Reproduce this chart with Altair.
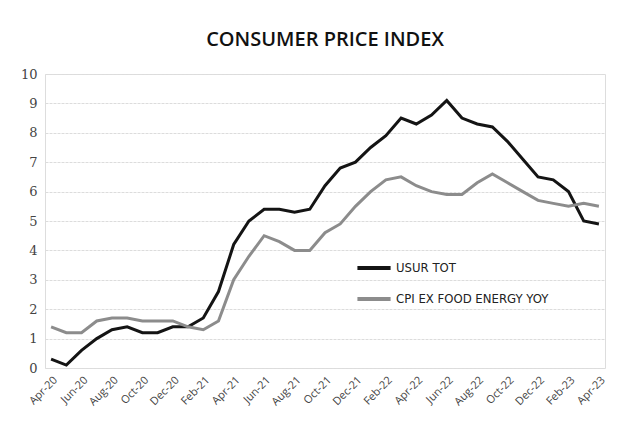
import altair as alt
import pandas as pd

months = ["Apr-20","May-20","Jun-20","Jul-20","Aug-20","Sep-20","Oct-20","Nov-20","Dec-20",
          "Jan-21","Feb-21","Mar-21","Apr-21","May-21","Jun-21","Jul-21","Aug-21","Sep-21","Oct-21","Nov-21","Dec-21",
          "Jan-22","Feb-22","Mar-22","Apr-22","May-22","Jun-22","Jul-22","Aug-22","Sep-22","Oct-22","Nov-22","Dec-22",
          "Jan-23","Feb-23","Mar-23","Apr-23"]
usur_tot = [0.3,0.1,0.6,1.0,1.3,1.4,1.2,1.2,1.4,
            1.4,1.7,2.6,4.2,5.0,5.4,5.4,5.3,5.4,6.2,6.8,7.0,
            7.5,7.9,8.5,8.3,8.6,9.1,8.5,8.3,8.2,7.7,7.1,6.5,
            6.4,6.0,5.0,4.9]
core_yoy = [1.4,1.2,1.2,1.6,1.7,1.7,1.6,1.6,1.6,
            1.4,1.3,1.6,3.0,3.8,4.5,4.3,4.0,4.0,4.6,4.9,5.5,
            6.0,6.4,6.5,6.2,6.0,5.9,5.9,6.3,6.6,6.3,6.0,5.7,
            5.6,5.5,5.6,5.5]
series_names = ["USUR TOT", "CPI EX FOOD ENERGY YOY"]
series_colors = ["#141414", "#8c8c8c"]

rows = []
for i, m in enumerate(months):
    rows.append({"idx": i, "month": m, "series": series_names[0], "value": usur_tot[i]})
    rows.append({"idx": i, "month": m, "series": series_names[1], "value": core_yoy[i]})
df = pd.DataFrame(rows)

label_list = "[" + ",".join("'" + m + "'" for m in months) + "]"

chart = alt.Chart(df).mark_line(strokeWidth=3).encode(
    x=alt.X("idx:Q",
            scale=alt.Scale(domain=[-0.4, 36.4], nice=False, zero=False),
            axis=alt.Axis(values=list(range(0, 37, 2)), labelExpr=label_list + "[datum.value]",
                          labelAngle=-45, labelAlign="right", labelBaseline="top",
                          labelOverlap=False, labelBound=False,
                          grid=False, ticks=False, domain=False, title=None,
                          labelFont="Open Sans", labelFontSize=11, labelColor="#444",
                          labelPadding=6)),
    y=alt.Y("value:Q",
            scale=alt.Scale(domain=[0, 10], nice=False),
            axis=alt.Axis(values=list(range(0, 11)), grid=True, gridColor="#dcdcdc",
                          gridWidth=1, gridDash=[3, 1], ticks=False, domain=False, title=None,
                          labelFont="DejaVu Serif", labelFontSize=13, labelColor="#444",
                          labelPadding=8, minExtent=30, maxExtent=30)),
    color=alt.Color("series:N",
                    scale=alt.Scale(domain=series_names, range=series_colors),
                    legend=alt.Legend(orient="none", legendX=310, legendY=175, title=None,
                                      symbolType="stroke", symbolStrokeWidth=4, symbolSize=1100,
                                      labelFont="DejaVu Sans Condensed, Roboto", labelFontSize=13,
                                      labelLimit=400,
                                      labelColor="#222", rowPadding=4, labelOffset=3)),
    order="idx:Q",
).properties(
    width=560, height=294,
    title=alt.TitleParams("CONSUMER PRICE INDEX", font="Open Sans", fontSize=20,
                          fontWeight=600, color="#111", offset=18, anchor="middle"),
    padding={"left": 7, "top": 22, "right": 5, "bottom": 5},
).configure_view(stroke=None).configure(background="white")

chart.save("out.html", embed_options={"renderer": "svg", "actions": False})
